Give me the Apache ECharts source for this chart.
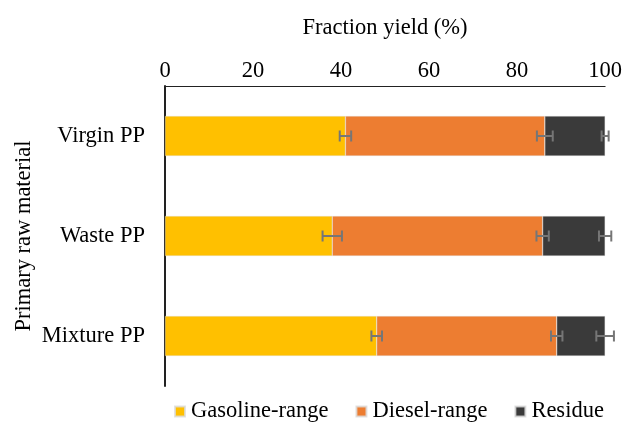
<!DOCTYPE html>
<html>
<head>
<meta charset="utf-8">
<script src="https://cdn.jsdelivr.net/npm/echarts@6/dist/echarts.min.js"></script>
<style>html,body{margin:0;padding:0;background:#fff}#c{width:625px;height:426px}</style>
</head>
<body>
<div id="c"></div>
<script>
const categories = ['Virgin PP', 'Waste PP', 'Mixture PP'];
const seriesNames = ['Gasoline-range', 'Diesel-range', 'Residue'];
const gasoline = [41.0, 38.0, 48.1];
const diesel = [45.3, 47.8, 40.9];
const residue = [13.7, 14.2, 11.0];
const gasolineErr = [1.3, 2.2, 1.2];
const dieselErr = [1.8, 1.4, 1.3];
const residueErr = [0.8, 1.4, 2.0];
const xTicks = [0, 20, 40, 60, 80, 100];

const colors = ['#FFC000', '#ED7D31', '#3A3A3A'];
const font = "'Liberation Serif', 'Times New Roman', serif";
const fs = 22.5;

const vals = [gasoline, diesel, residue];
const errs = [gasolineErr, dieselErr, residueErr];
const errData = [];
categories.forEach((c, i) => {
  let cum = 0;
  vals.forEach((arr, s) => {
    cum += arr[i];
    errData.push([cum, i, errs[s][i]]);
  });
});

const chart = echarts.init(document.getElementById('c'));
chart.setOption({
  animation: false,
  textStyle: { fontFamily: font },
  color: colors,
  grid: { left: 165, right: 19, top: 86, bottom: 40 },
  legend: {
    bottom: -2,
    left: 169,
    itemWidth: 10, itemHeight: 10, itemGap: 27,
    icon: 'rect',
    textStyle: { fontFamily: font, fontSize: fs, color: '#000', padding: [0, 0, 0, 1] },
    data: seriesNames
  },
  xAxis: {
    type: 'value', position: 'top', min: 0, max: 100, interval: 20,
    name: 'Fraction yield (%)', nameLocation: 'middle', nameGap: 46, nameMoveOverlap: false,
    nameTextStyle: { fontFamily: font, fontSize: fs, color: '#000' },
    axisLine: { show: true, lineStyle: { color: '#222', width: 1 } },
    axisTick: { show: false },
    splitLine: { show: false },
    axisLabel: {
      fontFamily: font, fontSize: fs, color: '#000', margin: 3,
      formatter: function (v) { return xTicks.indexOf(v) >= 0 ? String(v) : ''; }
    }
  },
  yAxis: {
    type: 'category', inverse: true, data: categories,
    name: 'Primary raw material', nameLocation: 'middle', nameGap: 129, nameRotate: 90, nameMoveOverlap: false,
    nameTextStyle: { fontFamily: font, fontSize: fs, color: '#000' },
    axisLine: { show: true, lineStyle: { color: '#222', width: 2 } },
    axisTick: { show: false },
    axisLabel: { fontFamily: font, fontSize: fs, color: '#000', margin: 20 }
  },
  series: [
    ...seriesNames.map((n, s) => ({
      name: n, type: 'bar', stack: 'total', data: vals[s],
      barWidth: '40%',
      itemStyle: { color: colors[s], borderColor: 'rgba(220,220,220,0.8)', borderWidth: 0.5 }
    })),
    {
      type: 'custom', silent: true, z: 10,
      data: errData,
      renderItem: function (params, api) {
        const v = api.value(0), c = api.value(1), e = api.value(2);
        const p1 = api.coord([v - e, c]);
        const p2 = api.coord([v + e, c]);
        const h = 5.5;
        const st = { stroke: '#767676', lineWidth: 2 };
        return {
          type: 'group',
          children: [
            { type: 'line', shape: { x1: p1[0], y1: p1[1], x2: p2[0], y2: p2[1] }, style: st },
            { type: 'line', shape: { x1: p1[0], y1: p1[1] - h, x2: p1[0], y2: p1[1] + h }, style: st },
            { type: 'line', shape: { x1: p2[0], y1: p2[1] - h, x2: p2[0], y2: p2[1] + h }, style: st }
          ]
        };
      }
    }
  ]
});
</script>
</body>
</html>
